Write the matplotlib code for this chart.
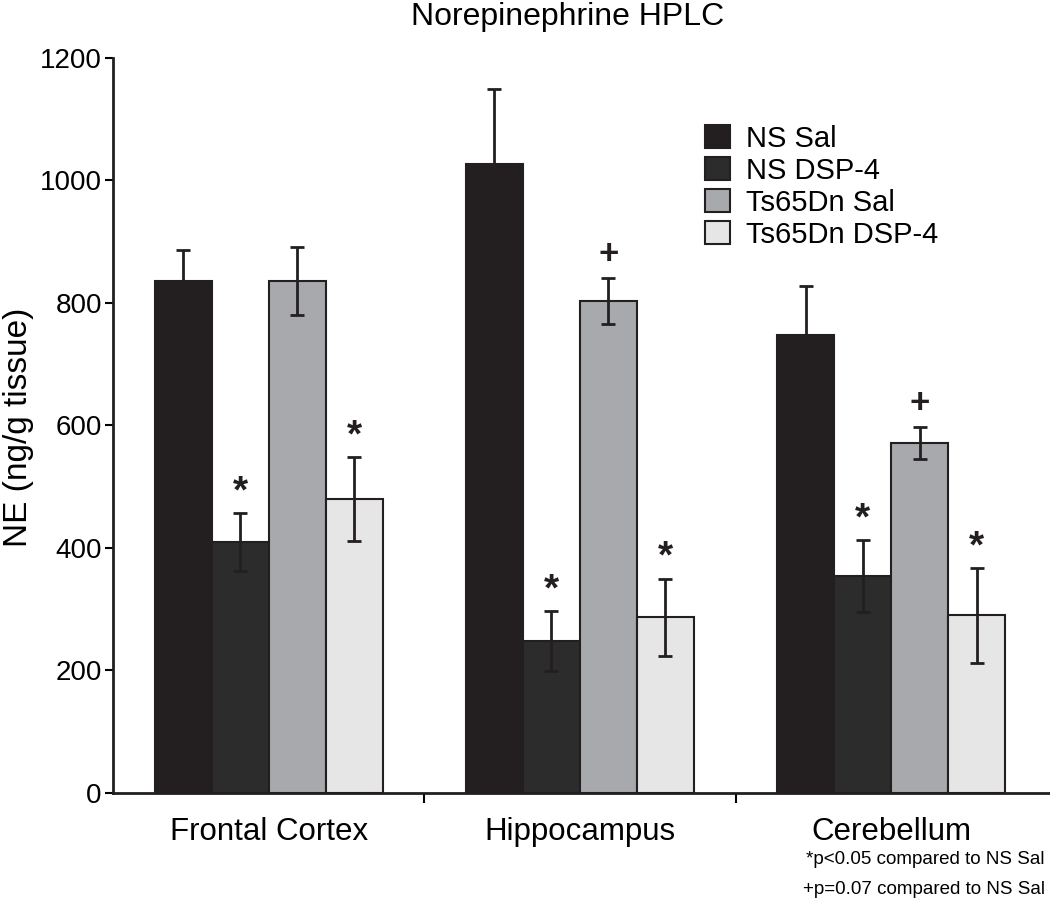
import numpy as np
import matplotlib
matplotlib.use("Agg")
import matplotlib.pyplot as plt
from matplotlib.patches import Patch

plt.rcParams['font.family'] = ['Liberation Sans', 'DejaVu Sans']

regions = ['Frontal Cortex', 'Hippocampus', 'Cerebellum']
groups = ['NS Sal', 'NS DSP-4', 'Ts65Dn Sal', 'Ts65Dn DSP-4']
colors = ['#231f20', '#2d2c2d', '#a7a9ac', '#e6e6e6']

# mean NE per group (rows) and region (columns)
means = [
    [836, 1027, 748],
    [410, 248, 354],
    [836, 803, 571],
    [480, 287, 290],
]
sems = [
    [50, 122, 80],
    [47, 49, 59],
    [56, 38, 26],
    [68, 63, 77],
]
# significance marks above each bar
marks = [
    ['', '', ''],
    ['*', '*', '*'],
    ['', '+', '+'],
    ['*', '*', '*'],
]
footnotes = ['*p<0.05 compared to NS Sal', '+p=0.07 compared to NS Sal']

fig = plt.figure(figsize=(10.5, 9.1), dpi=100)
ax = fig.add_axes([0.1076, 0.1286, 0.8924, 0.8077])

x = np.arange(len(regions))
width = 0.183
for i, grp in enumerate(groups):
    pos = x + (i - 1.5) * width
    ax.bar(pos, means[i], width, color=colors[i], edgecolor='#231f20',
           linewidth=1.5, zorder=2)
    ax.errorbar(pos, means[i], yerr=sems[i], fmt='none', ecolor='#231f20',
                elinewidth=2, capsize=5, capthick=2, zorder=3)
    for j in range(len(regions)):
        m = marks[i][j]
        if m:
            ax.annotate(m, (pos[j], means[i][j] + sems[i][j]),
                        xytext=(0, 2 if m == '*' else 5), textcoords='offset points',
                        ha='center', va='bottom', fontsize=28 if m == '*' else 25,
                        fontweight='bold', color='#231f20')

ax.set_xlim(-0.5, 2.51)
ax.set_ylim(0, 1200)
ax.set_yticks([0, 200, 400, 600, 800, 1000, 1200])
ax.tick_params(axis='y', labelsize=20, length=6, width=1.5, pad=2)
ax.set_xticks([0.5, 1.5])
ax.set_xticklabels([])
ax.tick_params(axis='x', which='major', length=7, width=1.5)
ax.set_xticks(x, minor=True)
ax.set_xticklabels(regions, minor=True)
ax.tick_params(axis='x', which='minor', length=0, labelsize=22.5, pad=17)

for side in ['top', 'right']:
    ax.spines[side].set_visible(False)
for side in ['left', 'bottom']:
    ax.spines[side].set_linewidth(2)
    ax.spines[side].set_color('#231f20')

ax.set_ylabel('NE (ng/g tissue)', fontsize=24)
ax.yaxis.set_label_coords(-0.084, 0.497)
fig.text(0.541, 0.9725, 'Norepinephrine HPLC', ha='center', va='baseline', fontsize=23)

handles = [Patch(facecolor=c, edgecolor='#231f20', linewidth=1.5) for c in colors]
ax.legend(handles, groups, loc='upper left', bbox_to_anchor=(0.604, 0.945),
          frameon=False, fontsize=21, handlelength=0.85, handleheight=0.85,
          labelspacing=0.14, handletextpad=0.55)

fig.text(0.995, 0.055, footnotes[0], ha='right', va='center', fontsize=13.5)
fig.text(0.995, 0.022, footnotes[1], ha='right', va='center', fontsize=13.5)

fig.savefig('out.png', dpi=100)
